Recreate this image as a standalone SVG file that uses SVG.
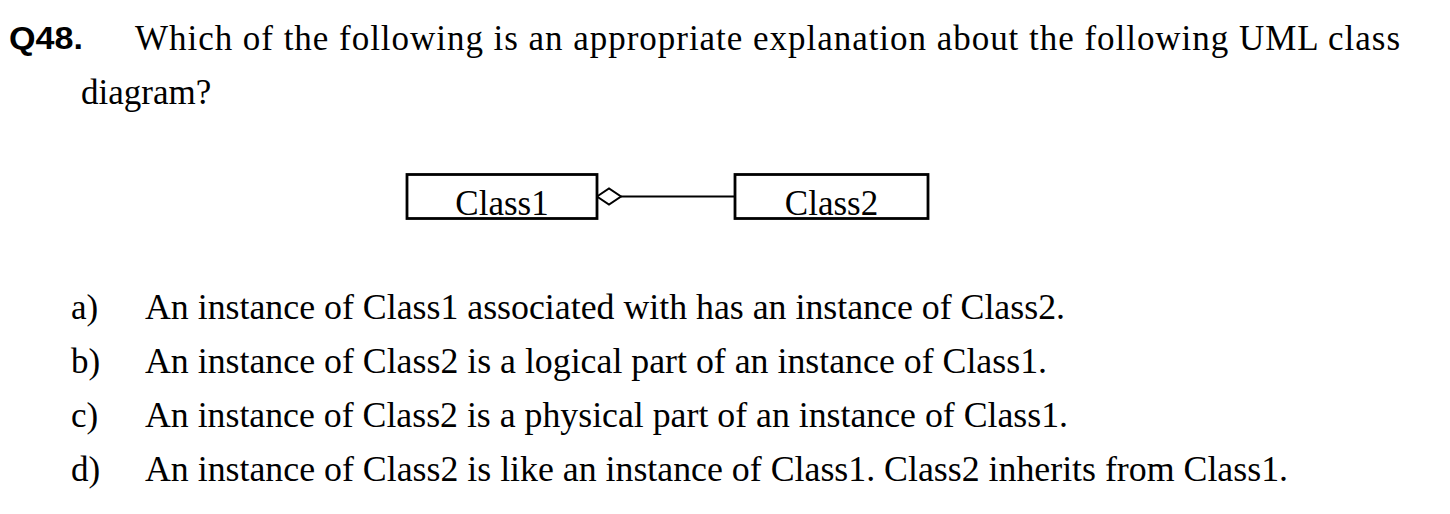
<svg xmlns="http://www.w3.org/2000/svg" width="1450" height="514" viewBox="0 0 1450 514">
<style>
.t{font-family:"Liberation Serif","Times New Roman",serif;font-size:35px;fill:#000}
.q{font-family:"Liberation Sans",Arial,sans-serif;font-size:31px;font-weight:bold;fill:#000}
.box{fill:#fff;stroke:#000;stroke-width:2.8}
.ln{fill:none;stroke:#000;stroke-width:2}
</style>
<rect width="1450" height="514" fill="#fff"/>
<g id="question">
<text class="q" x="9" y="49" textLength="74" lengthAdjust="spacingAndGlyphs">Q48.</text>
<text class="t" x="135" y="50" textLength="1265" lengthAdjust="spacing">Which of the following is an appropriate explanation about the following UML class</text>
<text class="t" x="81" y="104">diagram?</text>
</g>
<g id="connectors">
<line class="ln" x1="621" y1="196.5" x2="735" y2="196.5"/>
<polygon points="597,196.5 609,188.5 621,196.5 609,204.5" fill="#fff" stroke="#000" stroke-width="2"/>
</g>
<g id="class1">
<rect class="box" x="407" y="174.5" width="190" height="44"/>
<text class="t" x="502" y="215" text-anchor="middle">Class1</text>
</g>
<g id="class2">
<rect class="box" x="735" y="174.5" width="193" height="44"/>
<text class="t" x="831.5" y="215" text-anchor="middle">Class2</text>
</g>
<g id="options">
<text class="t" x="71" y="319">a)</text>
<text class="t" x="145" y="319" textLength="920" lengthAdjust="spacingAndGlyphs">An instance of Class1 associated with has an instance of Class2.</text>
<text class="t" x="71" y="373">b)</text>
<text class="t" x="145" y="373" textLength="902" lengthAdjust="spacingAndGlyphs">An instance of Class2 is a logical part of an instance of Class1.</text>
<text class="t" x="71" y="427">c)</text>
<text class="t" x="145" y="427" textLength="923" lengthAdjust="spacingAndGlyphs">An instance of Class2 is a physical part of an instance of Class1.</text>
<text class="t" x="71" y="481">d)</text>
<text class="t" x="145" y="481" textLength="1143" lengthAdjust="spacingAndGlyphs">An instance of Class2 is like an instance of Class1. Class2 inherits from Class1.</text>
</g>
</svg>
